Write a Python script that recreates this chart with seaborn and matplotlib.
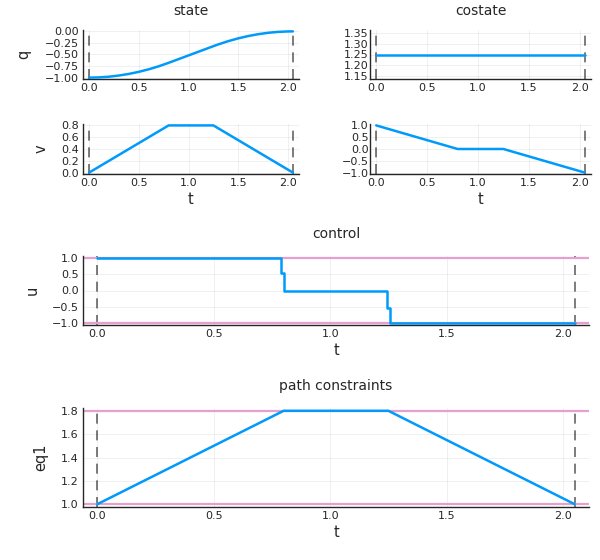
import numpy as np
import pandas as pd
import seaborn as sns
import matplotlib
matplotlib.use("Agg")
import matplotlib.pyplot as plt

# final time and solution values
tf = 2.05

# state q (position)
t_q = [0.0, 0.1, 0.2, 0.3, 0.4, 0.5, 0.6, 0.7, 0.8, 0.9, 1.0, 1.1, 1.2, 1.25,
       1.3, 1.4, 1.5, 1.6, 1.7, 1.8, 1.9, 2.0, 2.05]
q = [-1.0, -0.995, -0.98, -0.955, -0.92, -0.875, -0.82, -0.755, -0.68, -0.60, -0.52,
     -0.44, -0.36, -0.32, -0.281, -0.211, -0.151, -0.101, -0.061, -0.031, -0.011, -0.001, 0.0]

# state v (velocity)
t_v = [0.0, 0.8, 1.25, 2.05]
v = [0.0, 0.8, 0.8, 0.0]

# costates
t_p1 = [0.0, 2.05]
p1 = [1.25, 1.25]
t_p2 = [0.0, 0.8, 1.25, 2.05]
p2 = [1.0, 0.0, 0.0, -1.0]

# control (piecewise constant)
t_u = [0.0, 0.79, 0.80, 1.245, 1.255, 2.05]
u = [1.0, 0.55, 0.0, -0.55, -1.0, -1.0]

# path constraint eq1 and its bounds
t_eq = [0.0, 0.8, 1.25, 2.05]
eq1 = [1.0, 1.8, 1.8, 1.0]
u_bounds = [-1.0, 1.0]
eq_bounds = [1.0, 1.8]

blue = "#009AFA"
pink = "#E6A0CF"

sns.set_style("white")
plt.rcParams["font.family"] = ["DejaVu Sans"]

W, H = 600, 560
fig = plt.figure(figsize=(6, 5.6), dpi=100)


def box(x0, x1, y0, y1):
    return [x0 / W, 1 - y1 / H, (x1 - x0) / W, (y1 - y0) / H]


def style(ax, ylab, xlab=None, lpad=9):
    for s in ["top", "right"]:
        ax.spines[s].set_visible(False)
    ax.spines["left"].set_linewidth(1.0)
    ax.spines["bottom"].set_linewidth(1.0)
    ax.tick_params(direction="in", length=4, width=0.8, labelsize=8, pad=3)
    ax.grid(True, color="black", alpha=0.07, linewidth=0.6)
    ax.set_xlim(-0.0615, 2.1115)
    ax.set_xticks([0.0, 0.5, 1.0, 1.5, 2.0])
    ax.set_xticklabels(["0.0", "0.5", "1.0", "1.5", "2.0"])
    ax.set_ylabel(ylab, fontsize=10.5, labelpad=lpad)
    ax.set_xlabel(xlab if xlab else "", fontsize=10.5, labelpad=3)


def tlines(ax):
    for tt in [0.0, tf]:
        ax.axvline(tt, color="black", alpha=0.6, linestyle=(0, (6, 4)), linewidth=1.2, zorder=1)


def curve(ax, t, y, **kw):
    df = pd.DataFrame({"t": t, "y": y})
    sns.lineplot(data=df, x="t", y="y", ax=ax, color=blue, linewidth=1.8,
                 sort=False, estimator=None, zorder=3, **kw)


# state q
ax = fig.add_axes(box(83, 299, 30, 79))
curve(ax, t_q, q)
tlines(ax)
style(ax, "q", lpad=10)
ax.set_ylim(-1.03, 0.03)
ax.set_yticks([-1.0, -0.75, -0.5, -0.25, 0.0])
ax.set_yticklabels(["\u22121.00", "\u22120.75", "\u22120.50", "\u22120.25", "0.00"])
ax.set_title("state", fontsize=10, pad=11)

# state v
ax = fig.add_axes(box(83, 299, 124, 174))
curve(ax, t_v, v)
tlines(ax)
style(ax, "v", "t", lpad=9)
ax.set_ylim(-0.024, 0.824)
ax.set_yticks([0.0, 0.2, 0.4, 0.6, 0.8])

# costate p1
ax = fig.add_axes(box(370, 591, 30, 79))
curve(ax, t_p1, p1)
tlines(ax)
style(ax, "")
ax.set_ylim(1.136, 1.364)
ax.set_yticks([1.15, 1.2, 1.25, 1.3, 1.35])
ax.set_yticklabels(["1.15", "1.20", "1.25", "1.30", "1.35"])
ax.tick_params(axis="y", pad=1)
ax.set_title("costate", fontsize=10, pad=11)

# costate p2
ax = fig.add_axes(box(370, 591, 124, 174))
curve(ax, t_p2, p2)
tlines(ax)
style(ax, "", "t")
ax.set_ylim(-1.06, 1.06)
ax.set_yticks([-1.0, -0.5, 0.0, 0.5, 1.0])
ax.set_yticklabels(["\u22121.0", "\u22120.5", "0.0", "0.5", "1.0"])
ax.tick_params(axis="y", pad=1)

# control
ax = fig.add_axes(box(83, 589, 256, 325))
curve(ax, t_u, u, drawstyle="steps-post")
for b in u_bounds:
    ax.axhline(b, color=pink, linewidth=1.6, zorder=2)
tlines(ax)
style(ax, "u", "t", lpad=9)
ax.set_ylim(-1.06, 1.06)
ax.set_yticks([-1.0, -0.5, 0.0, 0.5, 1.0])
ax.set_yticklabels(["\u22121.0", "\u22120.5", "0.0", "0.5", "1.0"])
ax.set_title("control", fontsize=10, pad=13)

# path constraints
ax = fig.add_axes(box(83, 589, 408, 507))
curve(ax, t_eq, eq1)
for b in eq_bounds:
    ax.axhline(b, color=pink, linewidth=1.6, zorder=2)
tlines(ax)
style(ax, "eq1", "t", lpad=9)
ax.set_ylim(0.976, 1.824)
ax.set_yticks([1.0, 1.2, 1.4, 1.6, 1.8])
ax.set_title("path constraints", fontsize=10, pad=13)

fig.savefig("out.png", dpi=100)
